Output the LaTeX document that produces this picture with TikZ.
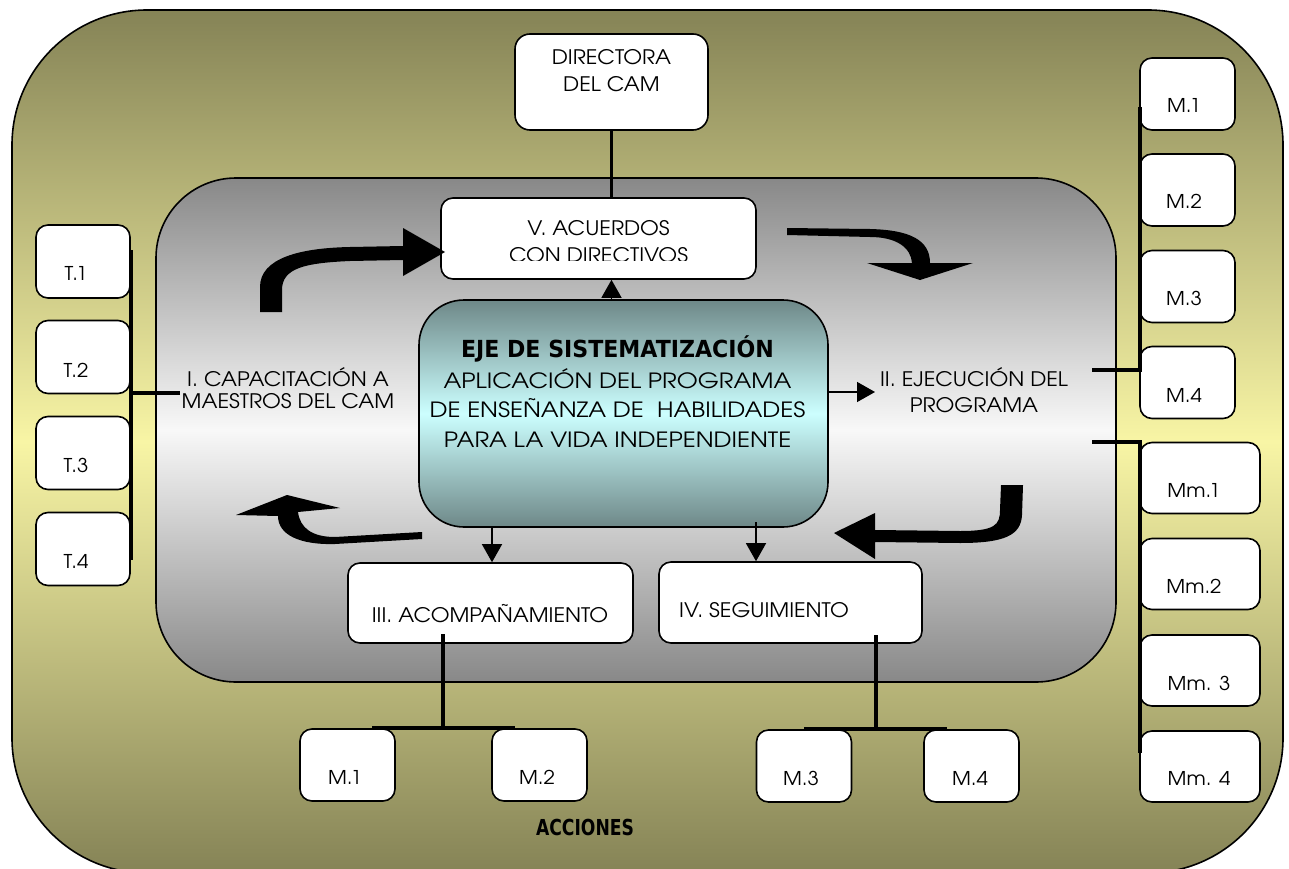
\documentclass[tikz,border=0pt]{standalone}
\usepackage{fontspec}
\setmainfont{texgyreadventor-regular.otf}[FakeStretch=1.08]
\newfontfamily\ejefont{texgyreadventor-regular.otf}[FakeStretch=1.15]
\newfontfamily\tahfont{DejaVu Sans}[FakeStretch=0.94]
\newfontfamily\tahfontb{DejaVu Sans}[FakeStretch=0.78]
\usetikzlibrary{arrows.meta}
\definecolor{olivetop}{RGB}{133,131,86}
\definecolor{olivemid}{RGB}{248,245,165}
\definecolor{greytop}{RGB}{136,136,136}
\definecolor{greymid}{RGB}{248,248,248}
\definecolor{tealtop}{RGB}{110,136,136}
\definecolor{tealmid}{RGB}{204,255,255}
\begin{document}
\begin{tikzpicture}[x=1pt,y=-1pt,
  box/.style={draw=black, line width=1.6pt, fill=white, rounded corners=12pt, inner sep=0pt},
  txt/.style={inner sep=0pt, anchor=base, align=center, font=\fontsize{20}{26}\selectfont},
  stxt/.style={inner sep=0pt, anchor=base, font=\fontsize{19}{20}\selectfont},
  link/.style={line width=3.2pt},
  thinarr/.style={line width=1.4pt, -{Triangle[length=18pt,width=20pt]}},
  blockarr/.style={fill=black}
]
\useasboundingbox (0,0) rectangle (1289,869);
\clip (0,0) rectangle (1289,869);
% outer container
\draw[line width=1.6pt, top color=olivetop, bottom color=olivetop, middle color=olivemid, rounded corners=135pt] (12,10) rectangle (1283,873);
% inner container
\draw[line width=1.6pt, top color=greytop, bottom color=greytop, middle color=greymid, rounded corners=80pt] (156,178) rectangle (1116,682);

% boxes
\node[box, minimum width=193pt, minimum height=96pt, rounded corners=15pt] (dir) at (611.5,82) {};
\node[box, minimum width=315pt, minimum height=81pt] (v) at (598.5,238.5) {};
\node[draw=black, line width=1.6pt, inner sep=0pt, rounded corners=45pt, minimum width=409pt, minimum height=227pt,
      top color=tealtop, bottom color=tealtop, middle color=tealmid] (eje) at (623.5,413.5) {};
\node[box, minimum width=285pt, minimum height=80pt] (iii) at (490.5,603) {};
\node[box, minimum width=263pt, minimum height=81pt] (iv) at (790.5,602.5) {};

\foreach \n/\y in {1/261.5,2/357,3/453,4/549}
  \node[box, minimum width=94pt, minimum height=73pt] (t\n) at (83,\y) {};
\foreach \n/\y in {1/94,2/190,3/286.5,4/382.5}
  \node[box, minimum width=95pt, minimum height=72pt] (rm\n) at (1187.5,\y) {};
\foreach \n/\y in {1/478,2/574,3/670.5,4/766.5}
  \node[box, minimum width=120pt, minimum height=71pt] (mm\n) at (1200,\y) {};
\node[box, minimum width=95pt, minimum height=72pt] (bm1) at (347.5,765) {};
\node[box, minimum width=95pt, minimum height=72pt] (bm2) at (539.5,765) {};
\node[box, minimum width=95pt, minimum height=72pt] (bm3) at (804,766) {};
\node[box, minimum width=95pt, minimum height=72pt] (bm4) at (971.5,766) {};

% texts (multi-line nodes: base = baseline of last line)
\node[txt, font=\fontsize{20}{27}\selectfont] (dirt) at (611.5,92) {DIRECTORA\\DEL CAM};
\begin{scope}
\clip (441,198) rectangle (756,260);
\node[txt, font=\fontsize{20}{27}\selectfont] (vt) at (598.5,262) {V. ACUERDOS\\CON DIRECTIVOS};
\end{scope}
\node[inner sep=0pt, anchor=base, font=\tahfont\bfseries\fontsize{23.5}{26}\selectfont] (ejet) at (617.5,357) {EJE DE SISTEMATIZACIÓN};
\node[txt, font=\ejefont\fontsize{21}{29.5}\selectfont] (ejet2) at (617.5,447) {APLICACIÓN DEL PROGRAMA\\DE ENSEÑANZA DE\ \ HABILIDADES\\PARA LA VIDA INDEPENDIENTE};
\node[txt, font=\fontsize{20}{21.5}\selectfont] (it) at (288,408) {I. CAPACITACIÓN A\\MAESTROS DEL CAM};
\node[txt, font=\fontsize{20}{26}\selectfont] (iit) at (974,412) {II. EJECUCIÓN DEL\\PROGRAMA};
\node[txt] (iiit) at (490,622) {III. ACOMPAÑAMIENTO};
\node[txt] (ivt) at (764,617) {IV. SEGUIMIENTO};
\node[inner sep=0pt, anchor=base, font=\tahfontb\bfseries\fontsize{22}{24}\selectfont] (acc) at (585,835) {ACCIONES};

\foreach \n/\y in {1/280,2/377,3/472,4/568}
  \node[stxt] (t\n t) at (76,\y) {T.\n};
\foreach \n/\y in {1/113,2/208,3/305,4/402}
  \node[stxt] (rm\n t) at (1184,\y) {M.\n};
\node[stxt] (mm1t) at (1194,497) {Mm.1};
\node[stxt] (mm2t) at (1194,593) {Mm.2};
\node[stxt] (mm3t) at (1199,690) {Mm. 3};
\node[stxt] (mm4t) at (1199,785) {Mm. 4};
\node[stxt] (bm1t) at (345,784) {M.1};
\node[stxt] (bm2t) at (537,784) {M.2};
\node[stxt] (bm3t) at (801,785) {M.3};
\node[stxt] (bm4t) at (970,785) {M.4};

% connector helpers
\coordinate (ivx) at (756,0);
\coordinate (iiix) at (492,0);

% thick links
\draw[link] (dir.south) -- (dir.south |- v.north);
\draw[link] (131,250) -- (131,560);
\draw[link] (131,393) -- (180,393);
\draw[link] (1140,107) -- (1140,370) -- (1092,370);
\draw[link] (1092,442) -- (1140,442) -- (1140,753);
\draw[link] (443,634) -- (443,728);
\draw[link] (372,728) -- (515,728);
\draw[link] (876,635) -- (876,729);
\draw[link] (804,729) -- (947,729);

% thin arrows
\draw[thinarr] (dir.south |- eje.north) -- (dir.south |- v.south);
\draw[thinarr] (eje.east |- 0,392) -- (875,392);
\draw[thinarr] (iiix |- eje.south) -- (iiix |- iii.north);
\draw[thinarr] (ivx |- 0,522) -- (ivx |- iv.north);

% block arrows
\fill[blockarr] (260,312) -- (260,287) .. controls (260,258) and (300,248) .. (350,247) -- (403,246) -- (403,228) -- (445,252) -- (403,276) -- (403,260) -- (350,261) .. controls (305,263) and (282,268) .. (282,290) -- (282,312) -- cycle;
\fill[blockarr] (787,228) -- (870,229) .. controls (910,230) and (930,240) .. (930,263) -- (973,263) -- (920,280) -- (867,263) -- (912,263) .. controls (911,248) and (897,237) .. (870,237) -- (787,235) -- cycle;
\fill[blockarr] (1001,485) -- (1023,485) -- (1022,515) .. controls (1021,535) and (1005,543) .. (960,543) -- (875,542) -- (875,559) -- (834,533) -- (875,513) -- (875,530) -- (960,531) .. controls (995,531) and (1000,525) .. (1000,510) -- cycle;
\fill[blockarr] (422,532) -- (422,539) -- (335,544) .. controls (300,545) and (278,535) .. (278,516) -- (236,515) -- (287,495) -- (340,508) -- (298,512) .. controls (300,528) and (312,537) .. (335,537) -- cycle;
\end{tikzpicture}
\end{document}
